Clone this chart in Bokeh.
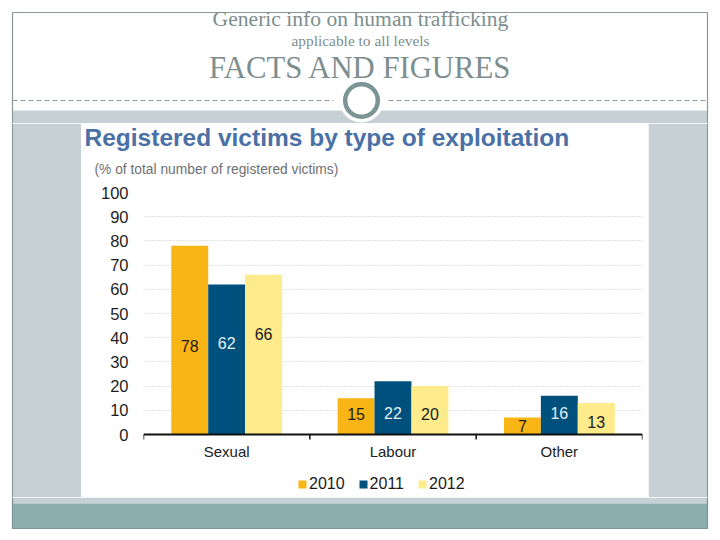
from bokeh.plotting import figure
from bokeh.layouts import column, row
from bokeh.models import Range1d, FactorRange, ColumnDataSource, FixedTicker, Legend, LegendItem
from bokeh.transform import dodge
from bokeh.core.properties import value
from bokeh.embed import file_html
from bokeh.resources import INLINE

# ---------------- data ----------------
categories = ["Sexual", "Labour", "Other"]
years = ["2010", "2011", "2012"]
v2010 = [78, 15, 7]
v2011 = [62, 22, 16]
v2012 = [66, 20, 13]
# heights (in % units) at which the value labels sit inside the bars
lab2010 = [36.4, 8.3, 3.7]
lab2011 = [38.0, 8.7, 8.7]
lab2012 = [41.7, 8.3, 5.0]
y_ticks = [0, 10, 20, 30, 40, 50, 60, 70, 80, 90, 100]

header_line1 = "Generic info on human trafficking"
header_line2 = "applicable to all levels"
header_line3 = "FACTS AND FIGURES"
chart_title = "Registered victims by type of exploitation"
chart_subtitle = "(% of total number of registered victims)"

# ---------------- styles ----------------
C2010 = "#F9B515"
C2011 = "#00507D"
C2012 = "#FDEB8C"
GRAY_BG = "#C6D0D5"
TEAL = "#8AADAD"
BORDER = "#8A9898"
HEAD_TXT = "#7D8E8E"
SANS = "Liberation Sans"
SERIF = "Liberation Serif"


def deco(w, h, x0, y0):
    p = figure(width=w, height=h, x_range=Range1d(x0, x0 + w), y_range=Range1d(y0 + h, y0),
               output_backend="svg", toolbar_location=None, min_border=0,
               x_axis_type=None, y_axis_type=None, title=None)
    p.outline_line_color = None
    p.grid.visible = False
    p.background_fill_color = "white"
    p.border_fill_color = "white"
    p.frame_align = False
    return p


# header (page coords x 0..716, y 0..123)
hdr = deco(716, 123, 0, 0)
hdr.quad(left=[12], right=[707], top=[110], bottom=[123], fill_color=GRAY_BG, line_color=None)
hdr.segment(x0=[12, 12, 707], y0=[12, 12, 12], x1=[707, 12, 707], y1=[12, 123, 123],
            line_color=BORDER, line_width=1.2)
hdr.segment(x0=[12, 388], y0=[100, 100], x1=[333, 707], y1=[100, 100],
            line_color="#8E9A9A", line_width=1, line_dash="5 3")
hdr.circle(x=[361], y=[100], radius=22, fill_color="white", line_color=None)
hdr.circle(x=[361], y=[100], radius=16.3, fill_color=None, line_color="#7B9494", line_width=4.5)
hdr.text(x=[360], y=[18], text=[header_line1], text_font=value(SERIF), text_font_size="21.6px",
         text_color=HEAD_TXT, text_align="center", text_baseline="middle")
hdr.text(x=[360], y=[40], text=[header_line2], text_font=value(SERIF), text_font_size="15.4px",
         text_color=HEAD_TXT, text_align="center", text_baseline="middle")
hdr.text(x=[360], y=[67], text=[header_line3], text_font=value(SERIF), text_font_size="30.7px",
         text_color=HEAD_TXT, text_align="center", text_baseline="middle")

# side strips
left = deco(81, 374, 0, 123)
left.quad(left=[12], right=[81], top=[123], bottom=[497], fill_color=GRAY_BG, line_color=None)
left.segment(x0=[12], y0=[123], x1=[12], y1=[497], line_color=BORDER, line_width=1.2)

right = deco(68, 374, 648, 123)
right.quad(left=[648], right=[707], top=[123], bottom=[497], fill_color=GRAY_BG, line_color=None)
right.segment(x0=[707], y0=[123], x1=[707], y1=[497], line_color=BORDER, line_width=1.2)

# bottom band
bot = deco(716, 39, 0, 497)
bot.quad(left=[12], right=[707], top=[497], bottom=[503], fill_color=GRAY_BG, line_color=None)
bot.quad(left=[12], right=[707], top=[503], bottom=[528], fill_color=TEAL, line_color=None)
bot.segment(x0=[12, 707, 12], y0=[497, 497, 528], x1=[12, 707, 707], y1=[528, 528, 528],
            line_color="#7A9494", line_width=1.2)

# chart title strip
ttl = deco(567, 55, 81, 123)
ttl.text(x=[84], y=[137], text=[chart_title], text_font=value(SANS), text_font_size="24.5px",
         text_font_style="bold", text_color="#4A70A6", text_align="left", text_baseline="middle")
ttl.text(x=[94], y=[169], text=[chart_subtitle], text_font=value(SANS), text_font_size="13.8px",
         text_color="#707070", text_align="left", text_baseline="middle")

# ---------------- the bar chart ----------------
src = ColumnDataSource(dict(cat=categories, y2010=v2010, y2011=v2011, y2012=v2012,
                            l2010=lab2010, l2011=lab2011, l2012=lab2012,
                            t2010=[str(v) for v in v2010], t2011=[str(v) for v in v2011],
                            t2012=[str(v) for v in v2012]))

# frame: 100 -> 69 px below the top of this figure, 0 -> 63 px above its bottom;
# the range extends below 0 so that category labels and legend sit inside the frame
PX_PER_UNIT = 242 / 100
y_low = -63 / PX_PER_UNIT
p = figure(width=567, height=319, x_range=FactorRange(*categories, range_padding=0),
           y_range=Range1d(y_low, 100), output_backend="svg", toolbar_location=None, title=None,
           min_border_left=62, min_border_right=6, min_border_top=14, min_border_bottom=0)
p.outline_line_color = None
p.background_fill_color = "white"
p.border_fill_color = "white"
p.frame_align = False

bw = 0.222
offs = [-bw, 0.0, bw]
cols = [C2010, C2011, C2012]
txtc = ["#202020", "#E4F1F8", "#202020"]
rends = []
for yr, off, c, tc in zip(years, offs, cols, txtc):
    r = p.vbar(x=dodge("cat", off, range=p.x_range), top="y" + yr, bottom=0, width=bw, source=src,
               fill_color=c, line_color=None)
    rends.append(r)
    p.text(x=dodge("cat", off, range=p.x_range), y="l" + yr, text="t" + yr, source=src,
           text_font=value(SANS), text_font_size="16px", text_color=tc,
           text_align="center", text_baseline="middle")

# small tick marks at the category boundaries on the base line
tick_len = 5 / PX_PER_UNIT
p.segment(x0=dodge("cat", 0.5, range=p.x_range), x1=dodge("cat", 0.5, range=p.x_range),
          y0=0, y1=-tick_len, source=src, line_color="#111111", line_width=1.5)
p.segment(x0=dodge("cat", -0.5, range=p.x_range), x1=dodge("cat", -0.5, range=p.x_range),
          y0=0, y1=-tick_len, source=ColumnDataSource(dict(cat=categories[:1])),
          line_color="#111111", line_width=1.5)

p.xgrid.visible = False
p.ygrid.ticker = FixedTicker(ticks=y_ticks)
p.ygrid.grid_line_color = "#C4C4C4"
p.ygrid.grid_line_dash = "1 2"
p.ygrid.grid_line_width = 1

p.yaxis.ticker = FixedTicker(ticks=y_ticks)
p.yaxis.axis_line_color = None
p.yaxis.major_tick_line_color = None
p.yaxis.minor_tick_line_color = None
p.yaxis.major_label_standoff = 9
p.yaxis.major_label_text_font = SANS
p.yaxis.major_label_text_font_size = "16.5px"
p.yaxis.major_label_text_color = "#1E1E1E"

p.xaxis.fixed_location = 0
p.xaxis.axis_line_color = "#111111"
p.xaxis.axis_line_width = 2
p.xaxis.major_tick_line_color = None
p.xaxis.minor_tick_line_color = None
p.xaxis.major_label_standoff = 2
p.xaxis.major_label_text_font = SANS
p.xaxis.major_label_text_font_size = "15px"
p.xaxis.major_label_text_color = "#222222"

legend = Legend(items=[LegendItem(label=yr, renderers=[r]) for yr, r in zip(years, rends)],
                orientation="horizontal", location=(154, 4),
                glyph_width=10, glyph_height=10, label_standoff=2, spacing=13,
                padding=0, margin=0, border_line_color=None, background_fill_alpha=0,
                label_text_font=SANS, label_text_font_size="16px", label_text_color="#1A1A1A")
p.add_layout(legend, "center")

layout = column(hdr, row(left, column(ttl, p), right), bot)

with open("out.html", "w") as f:
    f.write(file_html(layout, INLINE))
